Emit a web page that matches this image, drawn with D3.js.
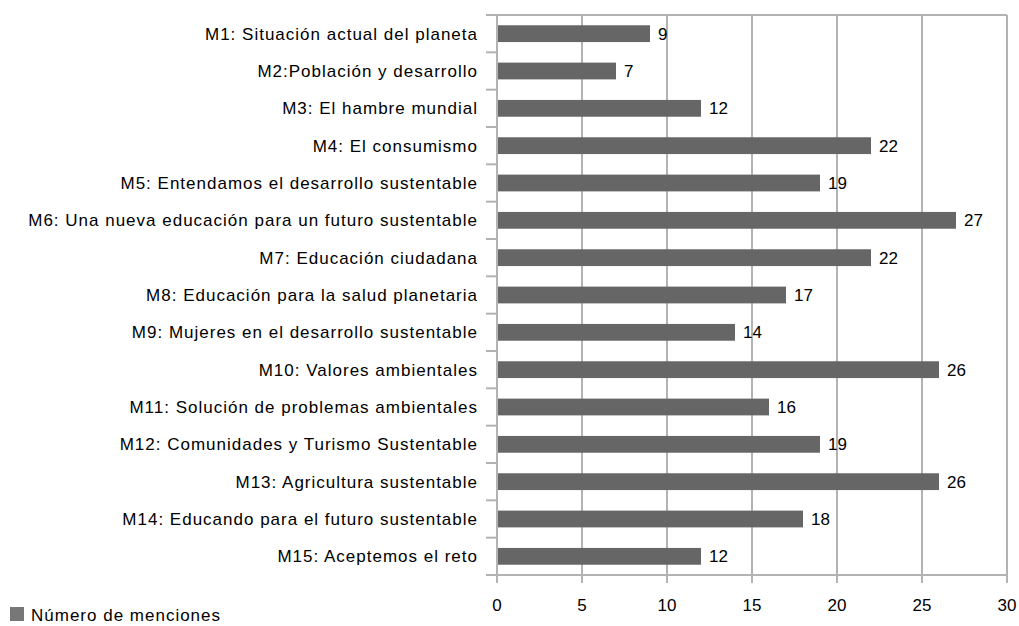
<!DOCTYPE html>
<html>
<head>
<meta charset="utf-8">
<script src="https://cdn.jsdelivr.net/npm/d3@7"></script>
<style>
  body { margin: 0; background: #fff; }
  text { font-family: "Liberation Sans", Arial, sans-serif; fill: #000; }
</style>
</head>
<body>
<svg width="1019" height="626"></svg>
<script>
// data
var modules = [
  "M1: Situación actual del planeta",
  "M2:Población y desarrollo",
  "M3: El hambre mundial",
  "M4: El consumismo",
  "M5: Entendamos el desarrollo sustentable",
  "M6: Una nueva educación para un futuro sustentable",
  "M7: Educación ciudadana",
  "M8: Educación para la salud planetaria",
  "M9: Mujeres en el desarrollo sustentable",
  "M10: Valores ambientales",
  "M11: Solución de problemas ambientales",
  "M12: Comunidades y Turismo Sustentable",
  "M13: Agricultura sustentable",
  "M14: Educando para el futuro sustentable",
  "M15: Aceptemos el reto"
];
var menciones = [9, 7, 12, 22, 19, 27, 22, 17, 14, 26, 16, 19, 26, 18, 12];
var xTicks = [0, 5, 10, 15, 20, 25, 30];
var seriesName = "Número de menciones";

var svg = d3.select("svg");
var margin = { top: 15, right: 12, bottom: 51, left: 497 },
  width = 1019 - margin.left - margin.right,
  height = 626 - margin.top - margin.bottom;

var g = svg.append("g")
  .attr("transform", "translate(" + margin.left + "," + margin.top + ")");

var x = d3.scaleLinear().domain([0, 30]).range([0, width]);
var y = d3.scaleBand().domain(modules).range([0, height]).paddingInner(0.55).paddingOuter(0.275);

var gridColor = "#b3b3b3";
var barColor = "#666666";

// vertical grid lines + bottom ticks
g.selectAll(".grid")
  .data(xTicks)
  .enter()
  .append("line")
  .attr("x1", d => x(d)).attr("x2", d => x(d))
  .attr("y1", 0).attr("y2", height + 8)
  .attr("stroke", gridColor).attr("stroke-width", 2);

// top border
g.append("line")
  .attr("x1", -11).attr("x2", width)
  .attr("y1", 0).attr("y2", 0)
  .attr("stroke", gridColor).attr("stroke-width", 2);

// bottom axis line
g.append("line")
  .attr("x1", -11).attr("x2", width)
  .attr("y1", height).attr("y2", height)
  .attr("stroke", gridColor).attr("stroke-width", 2);

// category ticks on left
var step = y.step();
g.selectAll(".ytick")
  .data(d3.range(modules.length + 1))
  .enter()
  .append("line")
  .attr("x1", -11).attr("x2", 0)
  .attr("y1", d => d * step).attr("y2", d => d * step)
  .attr("stroke", gridColor).attr("stroke-width", 2);

// x tick labels
g.selectAll(".xlabel")
  .data(xTicks)
  .enter()
  .append("text")
  .attr("x", d => x(d))
  .attr("y", height + 36)
  .attr("text-anchor", "middle")
  .attr("font-size", "17px")
  .text(d => d);

// category labels
g.selectAll(".ylabel")
  .data(modules)
  .enter()
  .append("text")
  .attr("x", -19)
  .attr("y", d => y(d) + y.bandwidth() / 2)
  .attr("dy", "0.36em")
  .attr("text-anchor", "end")
  .attr("font-size", "17px")
  .attr("letter-spacing", "1px")
  .text(d => d);

// bars
g.selectAll(".bar")
  .data(menciones)
  .enter()
  .append("rect")
  .attr("x", 1)
  .attr("y", (d, i) => y(modules[i]))
  .attr("width", d => x(d) - 1)
  .attr("height", y.bandwidth())
  .attr("fill", barColor);

// value labels
g.selectAll(".val")
  .data(menciones)
  .enter()
  .append("text")
  .attr("x", d => x(d) + 8)
  .attr("y", (d, i) => y(modules[i]) + y.bandwidth() / 2)
  .attr("dy", "0.36em")
  .attr("font-size", "17px")
  .text(d => d);

// legend
svg.append("rect")
  .attr("x", 10).attr("y", 607)
  .attr("width", 14).attr("height", 14)
  .attr("fill", "#777777");
svg.append("text")
  .attr("x", 31).attr("y", 621)
  .attr("font-size", "17px")
  .attr("letter-spacing", "1px")
  .text(seriesName);
</script>
</body>
</html>
